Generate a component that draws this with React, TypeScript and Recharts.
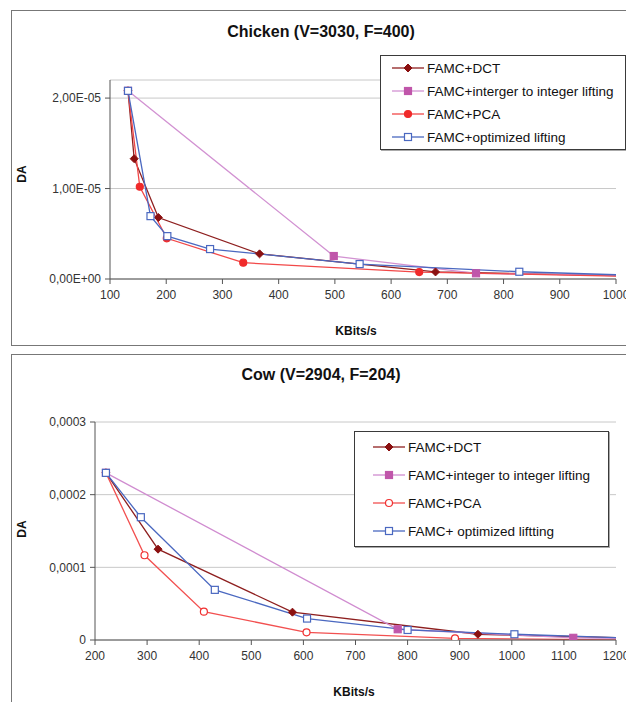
import React from 'react'
import { LineChart, Line, XAxis, YAxis, CartesianGrid } from 'recharts'

// Chicken (V=3030, F=400)
const chickenXTicks = [100, 200, 300, 400, 500, 600, 700, 800, 900, 1000]
const chickenYTicks = [0, 1e-5, 2e-5]
const chickenDctX = [132, 143, 186, 366, 679, 1010]
const chickenDctY = [2.08e-5, 1.33e-5, 0.68e-5, 0.278e-5, 0.078e-5, 0.035e-5]
const chickenIntX = [132, 498, 751, 1010]
const chickenIntY = [2.08e-5, 0.254e-5, 0.063e-5, 0.04e-5]
const chickenPcaX = [132, 153, 201, 337, 650, 1010]
const chickenPcaY = [2.08e-5, 1.02e-5, 0.45e-5, 0.18e-5, 0.077e-5, 0.03e-5]
const chickenOptX = [132, 172, 202, 278, 544, 828, 1010]
const chickenOptY = [2.08e-5, 0.695e-5, 0.474e-5, 0.331e-5, 0.165e-5, 0.08e-5, 0.045e-5]

// Cow (V=2904, F=204)
const cowXTicks = [200, 300, 400, 500, 600, 700, 800, 900, 1000, 1100, 1200]
const cowYTicks = [0, 0.0001, 0.0002, 0.0003]
const cowDctX = [221, 321, 579, 935, 1215]
const cowDctY = [2.3e-4, 1.25e-4, 0.383e-4, 0.079e-4, 0.03e-4]
const cowIntX = [221, 781, 1118, 1215]
const cowIntY = [2.3e-4, 0.148e-4, 0.03e-4, 0.02e-4]
const cowPcaX = [221, 295, 409, 606, 891, 1215]
const cowPcaY = [2.3e-4, 1.166e-4, 0.39e-4, 0.106e-4, 0.023e-4, 0.0]
const cowOptX = [221, 288, 430, 607, 800, 1005, 1215]
const cowOptY = [2.3e-4, 1.69e-4, 0.69e-4, 0.295e-4, 0.138e-4, 0.079e-4, 0.03e-4]

const FONT = '"Liberation Sans", Arial, sans-serif'

const pts = (xs: number[], ys: number[]) => xs.map((x, i) => ({ x, y: ys[i] }))

const sciFmt = (v: number) => {
  const [m, e] = v.toExponential(2).split('e')
  const n = parseInt(e, 10)
  const exp = (n < 0 ? '-' : '+') + String(Math.abs(n)).padStart(2, '0')
  return m.replace('.', ',') + 'E' + exp
}
const decFmt = (v: number) => (v === 0 ? '0' : v.toFixed(4).replace('.', ','))

type Shape = 'diamond' | 'square' | 'circle'

const drawMarker = (shape: Shape, cx: number, cy: number, stroke: string, fill: string, key?: any) => {
  if (shape === 'diamond')
    return <path key={key} d={`M${cx},${cy - 4}L${cx + 4},${cy}L${cx},${cy + 4}L${cx - 4},${cy}Z`} fill={fill} stroke={stroke} strokeWidth={1} />
  if (shape === 'square')
    return <rect key={key} x={cx - 3.5} y={cy - 3.5} width={7} height={7} fill={fill} stroke={stroke} strokeWidth={1.2} />
  return <circle key={key} cx={cx} cy={cy} r={3.5} fill={fill} stroke={stroke} strokeWidth={1.2} />
}

const makeDot = (shape: Shape, stroke: string, fill: string, xmax: number) => (p: any) => {
  if (p.payload.x > xmax || p.cx == null) return <g key={p.key} />
  return drawMarker(shape, p.cx, p.cy, stroke, fill, p.key)
}

interface Series {
  name: string
  data: { x: number; y: number }[]
  line: string
  mark: string
  fill: string
  shape: Shape
}

const Legend = ({ series, left, top, width, height, padTop, gap, padLeft }: any) => (
  <div style={{
    position: 'absolute', left, top, width, height, background: '#fff',
    border: '1px solid #3a3a3a', boxShadow: '1px 1px 0 #aaa', boxSizing: 'border-box',
  }}>
    {series.map((s: Series, i: number) => (
      <div key={s.name} style={{ position: 'absolute', left: padLeft, top: padTop + i * gap - 9, height: 18, display: 'flex', alignItems: 'center' }}>
        <svg width={32} height={12} style={{ marginRight: 3 }}>
          <line x1={0} y1={6} x2={32} y2={6} stroke={s.line} strokeWidth={1.3} />
          {drawMarker(s.shape, 16, 6, s.mark, s.fill)}
        </svg>
        <span style={{ fontFamily: FONT, fontSize: 13.5, color: '#111', whiteSpace: 'nowrap' }}>{s.name}</span>
      </div>
    ))}
  </div>
)

const Panel = ({ top, height, title, series, xDomain, xTicks, yDomain, yTicks, yFmt, yWidth, margin, legend, titleY, xLabelX, xLabelY, yLabelY }: any) => (
  <div style={{ position: 'absolute', left: 0, top, width: 626, height }}>
    <div style={{ position: 'absolute', left: 11, top: 0, width: 640, height: height - 2, border: '1px solid #777' }} />
    <div style={{ position: 'absolute', left: 0, width: 642, top: titleY - 10, textAlign: 'center', fontFamily: FONT, fontWeight: 700, fontSize: 16, color: '#111' }}>{title}</div>
    <div style={{ position: 'absolute', left: 0, top: 0 }}>
      <LineChart width={626} height={height} margin={margin}>
        <CartesianGrid horizontal vertical={false} stroke="#c8c8c8" />
        <XAxis
          type="number" dataKey="x" domain={xDomain} ticks={xTicks} allowDataOverflow
          interval={0} tickLine={{ stroke: '#555' }} axisLine={{ stroke: '#555' }} tickSize={5} tickMargin={6}
          height={30} tick={{ fill: '#333', fontFamily: FONT, fontSize: 12 }}
        />
        <YAxis
          type="number" dataKey="y" domain={yDomain} ticks={yTicks} allowDataOverflow
          interval={0} tickFormatter={yFmt} tickLine={{ stroke: '#555' }} axisLine={{ stroke: '#555' }} tickSize={5} tickMargin={4}
          width={yWidth} tick={{ fill: '#333', fontFamily: FONT, fontSize: 12 }}
        />
        {series.map((s: Series) => (
          <Line
            key={s.name} data={s.data} dataKey="y" name={s.name} type="linear"
            stroke={s.line} strokeWidth={1.3} isAnimationActive={false}
            dot={makeDot(s.shape, s.mark, s.fill, xDomain[1])} activeDot={false}
          />
        ))}
      </LineChart>
    </div>
    <div style={{ position: 'absolute', left: 22 - 20, top: yLabelY - 8, width: 40, textAlign: 'center', transform: 'rotate(-90deg)', fontFamily: FONT, fontWeight: 700, fontSize: 12, color: '#111' }}>DA</div>
    <div style={{ position: 'absolute', left: xLabelX - 40, top: xLabelY - 8, width: 80, textAlign: 'center', fontFamily: FONT, fontWeight: 700, fontSize: 12, color: '#111' }}>KBits/s</div>
    <Legend series={series} {...legend} />
  </div>
)

export default function App() {
  const chicken: Series[] = [
    { name: 'FAMC+DCT', data: pts(chickenDctX, chickenDctY), line: '#8e1f1f', mark: '#8b1010', fill: '#8b1010', shape: 'diamond' },
    { name: 'FAMC+interger to integer lifting', data: pts(chickenIntX, chickenIntY), line: '#d292d2', mark: '#c056aa', fill: '#c056aa', shape: 'square' },
    { name: 'FAMC+PCA', data: pts(chickenPcaX, chickenPcaY), line: '#f24848', mark: '#f02a2a', fill: '#f02a2a', shape: 'circle' },
    { name: 'FAMC+optimized lifting', data: pts(chickenOptX, chickenOptY), line: '#4a68c0', mark: '#4a68c0', fill: '#fff', shape: 'square' },
  ]
  const cow: Series[] = [
    { name: 'FAMC+DCT', data: pts(cowDctX, cowDctY), line: '#8e1f1f', mark: '#8b1010', fill: '#8b1010', shape: 'diamond' },
    { name: 'FAMC+integer to integer lifting', data: pts(cowIntX, cowIntY), line: '#d08cd0', mark: '#c056aa', fill: '#c056aa', shape: 'square' },
    { name: 'FAMC+PCA', data: pts(cowPcaX, cowPcaY), line: '#f25050', mark: '#f03030', fill: '#fff', shape: 'circle' },
    { name: 'FAMC+ optimized liftting', data: pts(cowOptX, cowOptY), line: '#4a68c0', mark: '#4a68c0', fill: '#fff', shape: 'square' },
  ]
  return (
    <div style={{ position: 'absolute', left: 0, top: 0, width: 626, height: 702, overflow: 'hidden', background: '#fff' }}>
      <Panel
        top={10} height={336} title="Chicken (V=3030, F=400)" series={chicken}
        xDomain={[100, 1000]} xTicks={chickenXTicks} yDomain={[0, 2.2e-5]} yTicks={chickenYTicks}
        yFmt={sciFmt} yWidth={70} margin={{ top: 70, right: 10, bottom: 37, left: 40 }}
        titleY={23} xLabelX={356} xLabelY={322} yLabelY={165}
        legend={{ left: 380, top: 45, width: 246, height: 95, padTop: 12, gap: 23, padLeft: 11 }}
      />
      <Panel
        top={354} height={350} title="Cow (V=2904, F=204)" series={cow}
        xDomain={[200, 1200]} xTicks={cowXTicks} yDomain={[0, 0.0003]} yTicks={cowYTicks}
        yFmt={decFmt} yWidth={60} margin={{ top: 68, right: 10, bottom: 34, left: 35 }}
        titleY={22} xLabelX={354} xLabelY={339} yLabelY={176}
        legend={{ left: 354, top: 77, width: 255, height: 116, padTop: 15, gap: 28, padLeft: 18 }}
      />
    </div>
  )
}
